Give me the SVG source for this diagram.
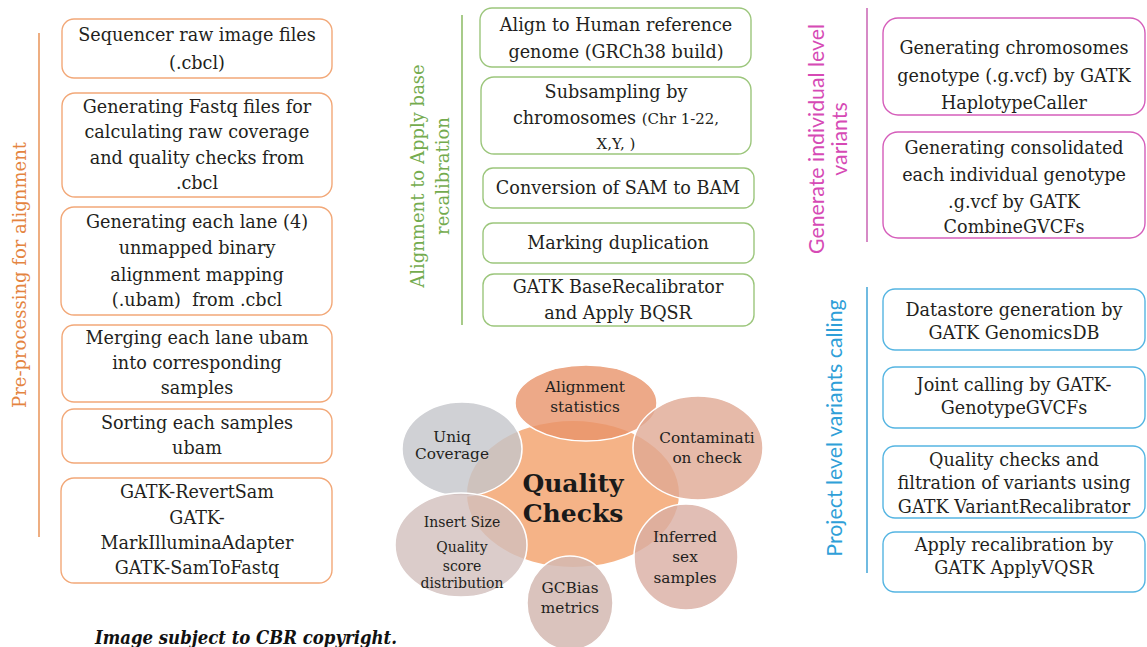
<svg xmlns="http://www.w3.org/2000/svg" width="1147" height="647" viewBox="0 0 1147 647">
  <style>
    .box { fill: #ffffff; stroke-width: 1.4; }
    .orange { stroke: #F2A878; }
    .green { stroke: #9CC67C; }
    .pink { stroke: #D55DBA; }
    .blue { stroke: #55B5E2; }
    .t { font-family: "DejaVu Serif", "Liberation Serif", serif; font-size: 17.6px; fill: #231f20; text-anchor: middle; }
    .small { font-size: 15px; }
    .lab { font-size: 18px; text-anchor: middle; }
    .serif { font-family: "DejaVu Serif", "Liberation Serif", serif; }
    .sans { font-family: Lato, "Liberation Sans", sans-serif; font-size: 21.3px; }
    .ct { font-family: "DejaVu Serif", "Liberation Serif", serif; font-size: 15.3px; fill: #231f20; text-anchor: middle; }
    .ct.fine { font-size: 14px; }
    .sat { stroke: #ffffff; stroke-width: 1.5; }
  </style>

  <rect width="1147" height="647" fill="#ffffff"/>

  <!-- section rules -->
  <g id="connectors" stroke-width="1.6" fill="none">
    <line x1="39" y1="33" x2="39" y2="537" stroke="#EA9A62"/>
    <line x1="462" y1="15" x2="462" y2="325" stroke="#92BE6C"/>
    <line x1="867" y1="8" x2="867" y2="242" stroke="#CC6DB8"/>
    <line x1="867" y1="287" x2="867" y2="573" stroke="#4DAADA"/>
  </g>

  <!-- vertical section labels -->
  <g id="label-preprocessing">
    <text class="lab serif" fill="#E4843F" transform="translate(26,275) rotate(-90)">Pre-processing for alignment</text>
  </g>
  <g id="label-alignment">
    <text class="lab serif" fill="#74AB4E" transform="translate(424,176) rotate(-90)">Alignment to Apply base</text>
    <text class="lab serif" fill="#74AB4E" transform="translate(449,176) rotate(-90)">recalibration</text>
  </g>
  <g id="label-individual">
    <text class="lab sans" fill="#D64AB5" transform="translate(824,139) rotate(-90)">Generate individual level</text>
    <text class="lab sans" fill="#D64AB5" transform="translate(847,139) rotate(-90)">variants</text>
  </g>
  <g id="label-project">
    <text class="lab sans" fill="#2F9FD8" transform="translate(842,428) rotate(-90)">Project level variants calling</text>
  </g>

  <!-- pre-processing column -->
  <g id="pre1">
    <rect class="box orange" x="62" y="19" width="270" height="59" rx="12"/>
    <text class="t" x="197" y="41">Sequencer raw image files</text>
    <text class="t" x="197" y="69">(.cbcl)</text>
  </g>
  <g id="pre2">
    <rect class="box orange" x="62" y="93" width="270" height="104" rx="13"/>
    <text class="t" x="197" y="113">Generating Fastq files for</text>
    <text class="t" x="197" y="138">calculating raw coverage</text>
    <text class="t" x="197" y="164">and quality checks from</text>
    <text class="t" x="197" y="189">.cbcl</text>
  </g>
  <g id="pre3">
    <rect class="box orange" x="61" y="207" width="271" height="108" rx="13"/>
    <text class="t" x="197" y="228">Generating each lane (4)</text>
    <text class="t" x="197" y="254">unmapped binary</text>
    <text class="t" x="197" y="281">alignment mapping</text>
    <text class="t" x="197" y="306" xml:space="preserve">(.ubam)  from .cbcl</text>
  </g>
  <g id="pre4">
    <rect class="box orange" x="62" y="325" width="270" height="77" rx="12"/>
    <text class="t" x="197" y="344">Merging each lane ubam</text>
    <text class="t" x="197" y="369">into corresponding</text>
    <text class="t" x="197" y="394">samples</text>
  </g>
  <g id="pre5">
    <rect class="box orange" x="62" y="409" width="270" height="54" rx="12"/>
    <text class="t" x="197" y="429">Sorting each samples</text>
    <text class="t" x="197" y="454">ubam</text>
  </g>
  <g id="pre6">
    <rect class="box orange" x="61" y="478" width="271" height="105" rx="13"/>
    <text class="t" x="197" y="498">GATK-RevertSam</text>
    <text class="t" x="197" y="524">GATK-</text>
    <text class="t" x="197" y="549">MarkIlluminaAdapter</text>
    <text class="t" x="197" y="574">GATK-SamToFastq</text>
  </g>

  <!-- alignment column -->
  <g id="aln1">
    <rect class="box green" x="480" y="8" width="271" height="59" rx="12"/>
    <text class="t" x="616" y="31">Align to Human reference</text>
    <text class="t" x="616" y="58">genome (GRCh38 build)</text>
  </g>
  <g id="aln2">
    <rect class="box green" x="481" y="77" width="270" height="77" rx="13"/>
    <text class="t" x="616" y="98">Subsampling by</text>
    <text class="t" x="616" y="124">chromosomes <tspan class="small">(Chr 1-22,</tspan></text>
    <text class="t small" x="616" y="149">X,Y, )</text>
  </g>
  <g id="aln3">
    <rect class="box green" x="483" y="168" width="271" height="40" rx="10"/>
    <text class="t" x="618" y="194">Conversion of SAM to BAM</text>
  </g>
  <g id="aln4">
    <rect class="box green" x="483" y="223" width="271" height="40" rx="10"/>
    <text class="t" x="618" y="249">Marking duplication</text>
  </g>
  <g id="aln5">
    <rect class="box green" x="483" y="274" width="271" height="52" rx="11"/>
    <text class="t" x="618" y="293">GATK BaseRecalibrator</text>
    <text class="t" x="618" y="319">and Apply BQSR</text>
  </g>

  <!-- individual variants column -->
  <g id="ind1">
    <rect class="box pink" x="883" y="18" width="262" height="97" rx="15"/>
    <text class="t" x="1014" y="54">Generating chromosomes</text>
    <text class="t" x="1014" y="82">genotype (.g.vcf) by GATK</text>
    <text class="t" x="1014" y="109">HaplotypeCaller</text>
  </g>
  <g id="ind2">
    <rect class="box pink" x="883" y="132" width="262" height="106" rx="15"/>
    <text class="t" x="1014" y="154">Generating consolidated</text>
    <text class="t" x="1014" y="181">each individual genotype</text>
    <text class="t" x="1014" y="208">.g.vcf by GATK</text>
    <text class="t" x="1014" y="233">CombineGVCFs</text>
  </g>

  <!-- project variants column -->
  <g id="proj1">
    <rect class="box blue" x="883" y="289" width="262" height="61" rx="12"/>
    <text class="t" x="1014" y="316">Datastore generation by</text>
    <text class="t" x="1014" y="339">GATK GenomicsDB</text>
  </g>
  <g id="proj2">
    <rect class="box blue" x="883" y="367" width="262" height="61" rx="12"/>
    <text class="t" x="1014" y="391">Joint calling by GATK-</text>
    <text class="t" x="1014" y="414">GenotypeGVCFs</text>
  </g>
  <g id="proj3">
    <rect class="box blue" x="883" y="446" width="262" height="72" rx="12"/>
    <text class="t" x="1014" y="466">Quality checks and</text>
    <text class="t" x="1014" y="489">filtration of variants using</text>
    <text class="t" x="1014" y="513">GATK VariantRecalibrator</text>
  </g>
  <g id="proj4">
    <rect class="box blue" x="883" y="532" width="262" height="60" rx="12"/>
    <text class="t" x="1014" y="551">Apply recalibration by</text>
    <text class="t" x="1014" y="574">GATK ApplyVQSR</text>
  </g>

  <!-- quality checks cluster -->
  <g id="qc-center">
    <ellipse cx="573" cy="494" rx="106" ry="73" fill="#F5B387"/>
  </g>
  <g id="qc-alignment">
    <ellipse class="sat" cx="586" cy="403" rx="71" ry="38" fill="#E8946A" fill-opacity="0.8"/>
  </g>
  <g id="qc-uniq">
    <ellipse class="sat" cx="462" cy="449" rx="60" ry="47" fill="#C4C6CA" fill-opacity="0.8"/>
  </g>
  <g id="qc-contamination">
    <ellipse class="sat" cx="698" cy="448" rx="65" ry="52" fill="#E0A994" fill-opacity="0.8"/>
  </g>
  <g id="qc-sex">
    <ellipse class="sat" cx="686" cy="557" rx="52" ry="53" fill="#D9AEA3" fill-opacity="0.8"/>
  </g>
  <g id="qc-gcbias">
    <ellipse class="sat" cx="570" cy="603" rx="43" ry="47" fill="#D3B8B2" fill-opacity="0.85"/>
  </g>
  <g id="qc-insert">
    <ellipse class="sat" cx="461" cy="545" rx="66" ry="52" fill="#D2BFBD" fill-opacity="0.8"/>
  </g>

  <g id="qc-text">
    <text class="ct" x="585" y="392">Alignment</text>
    <text class="ct" x="585" y="412">statistics</text>
    <text class="ct" x="452" y="442">Uniq</text>
    <text class="ct" x="452" y="459">Coverage</text>
    <text class="ct" x="707" y="443">Contaminati</text>
    <text class="ct" x="707" y="463">on check</text>
    <text class="ct" x="685" y="542">Inferred</text>
    <text class="ct" x="685" y="562">sex</text>
    <text class="ct" x="685" y="583">samples</text>
    <text class="ct" x="570" y="593">GCBias</text>
    <text class="ct" x="570" y="613">metrics</text>
    <text class="ct fine" x="462" y="527">Insert Size</text>
    <text class="ct fine" x="462" y="552">Quality</text>
    <text class="ct fine" x="462" y="571">score</text>
    <text class="ct fine" x="462" y="588">distribution</text>
    <text x="573" y="492" font-family="'DejaVu Serif', 'Liberation Serif', serif" font-size="25" font-weight="bold" fill="#1a1a1a" text-anchor="middle">Quality</text>
    <text x="573" y="522" font-family="'DejaVu Serif', 'Liberation Serif', serif" font-size="25" font-weight="bold" fill="#1a1a1a" text-anchor="middle">Checks</text>
  </g>

  <text x="95" y="644" font-family="'DejaVu Serif', 'Liberation Serif', serif" font-size="18" font-weight="bold" font-style="italic" fill="#111" textLength="302" lengthAdjust="spacingAndGlyphs">Image subject to CBR copyright.</text>
</svg>
